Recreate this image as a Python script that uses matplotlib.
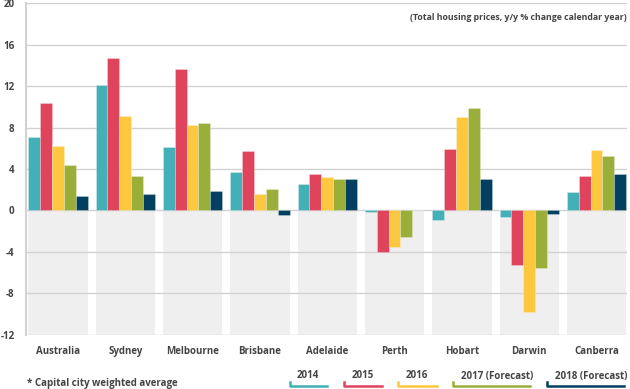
import matplotlib
matplotlib.use("Agg")
import matplotlib.pyplot as plt
from matplotlib.lines import Line2D
from matplotlib.patches import Rectangle
import numpy as np

plt.rcParams['font.family'] = ['Open Sans', 'DejaVu Sans']

cities = ['Australia', 'Sydney', 'Melbourne', 'Brisbane', 'Adelaide',
          'Perth', 'Hobart', 'Darwin', 'Canberra']
series = ['2014', '2015', '2016', '2017 (Forecast)', '2018 (Forecast)']
y2014 = [7.1, 12.1, 6.1, 3.7, 2.6, -0.1, -0.9, -0.6, 1.8]
y2015 = [10.4, 14.7, 13.6, 5.7, 3.5, -4.0, 5.9, -5.3, 3.3]
y2016 = [6.2, 9.1, 8.2, 1.6, 3.2, -3.5, 9.0, -9.8, 5.8]
y2017 = [4.4, 3.3, 8.4, 2.1, 3.0, -2.6, 9.9, -5.5, 5.3]
y2018 = [1.4, 1.6, 1.9, -0.4, 3.0, 0.0, 3.0, -0.3, 3.5]
values = [y2014, y2015, y2016, y2017, y2018]
colors = ['#42b0b6', '#e0435c', '#fdc73f', '#9aae3a', '#03405f']
yticks = [-12, -8, -4, 0, 4, 8, 12, 16, 20]

txt = '#444444'

fig = plt.figure(figsize=(6.3, 3.89), dpi=100)
ax = fig.add_axes([0.0406, 0.139, 0.9544, 0.853])

x = np.arange(len(cities))
bw = 0.176
group = bw * len(series)

# grey panels below zero
for xi in x:
    ax.add_patch(Rectangle((xi - group / 2, -12), group, 12,
                           facecolor='#efefef', edgecolor='none', zorder=0))

for i, (vals, c) in enumerate(zip(values, colors)):
    off = (i - 2) * bw
    ax.bar(x + off, vals, bw, color=c, edgecolor=(1, 1, 1, 0.35),
           linewidth=0.5, zorder=3)

ax.set_ylim(-12, 20)
ax.set_xlim(-0.48, len(cities) - 1 + 0.45)
ax.set_yticks(yticks)
ax.set_yticklabels([str(t) for t in yticks], fontsize=7, fontweight='bold', color=txt)
ax.set_xticks(x)
ax.set_xticklabels(cities, fontsize=7, fontweight='bold', color=txt)
ax.tick_params(axis='both', length=0)
ax.tick_params(axis='y', pad=8)
ax.tick_params(axis='x', pad=8)
for yv in yticks:
    ax.axhline(yv, color='#d2d2d2', linewidth=1, zorder=1)
for s in ['top', 'right', 'bottom']:
    ax.spines[s].set_visible(False)
ax.spines['left'].set_color('#d2d2d2')
ax.spines['left'].set_linewidth(1.5)

fig.text(0.995, 0.955, '(Total housing prices, y/y % change calendar year)',
         ha='right', va='center', fontsize=6.3, fontweight='bold', color=txt)
fig.text(0.043, 0.013, '* Capital city weighted average',
         ha='left', va='center', fontsize=7, fontweight='bold', color=txt)

# legend: label above a bracket-like coloured line
leg = [(290, 327), (344, 382), (398, 437), (453, 530), (547, 624)]
label_x = [308, 363, 417, 497, 591]
for (x0, x1), lx, lab, c in zip(leg, label_x, series, colors):
    fx0, fx1 = x0 / 630, x1 / 630
    yl = 1 - 386 / 389
    fig.add_artist(Line2D([fx0, fx0, fx1], [1 - 382 / 389, yl, yl],
                          color=c, linewidth=1.8, transform=fig.transFigure))
    fig.text(lx / 630, 1 - 376 / 389, lab, ha='center', va='center',
             fontsize=7, fontweight='bold', color=txt)

fig.savefig('out.png', dpi=100)
